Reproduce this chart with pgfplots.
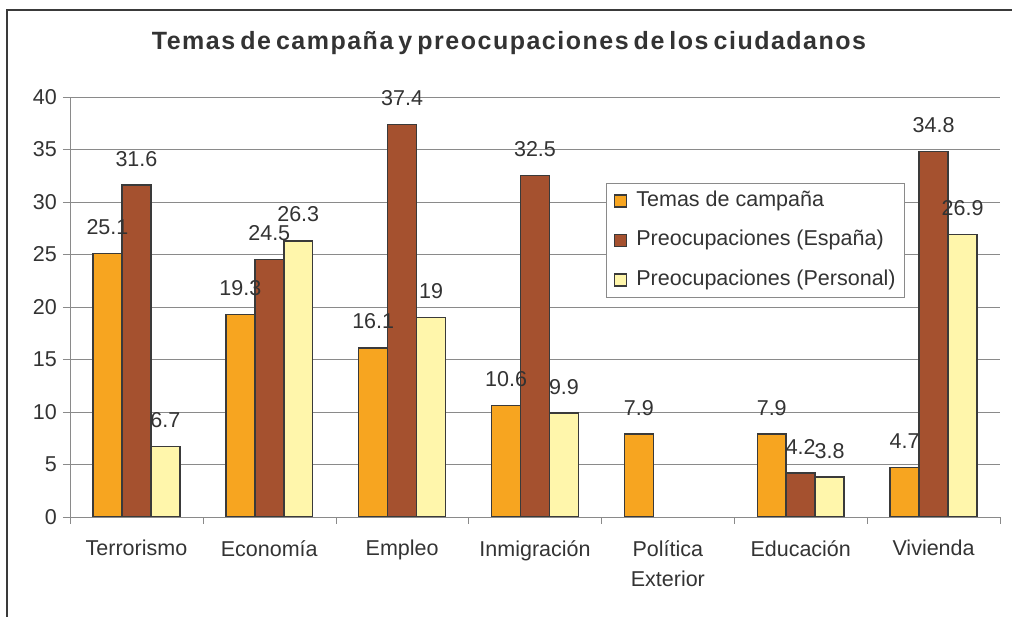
\documentclass[border=0pt]{standalone}
\usepackage{fontspec}
\setmainfont{Liberation Sans}
\newfontfamily\titlefont[LetterSpace=6,WordSpace=0.6]{Liberation Sans}
\usepackage{pgfplots}
\pgfplotsset{compat=1.18}
\definecolor{campana}{HTML}{F7A520}
\definecolor{espana}{HTML}{A5512F}
\definecolor{personal}{HTML}{FFF6AB}
\definecolor{edge}{HTML}{3A3A3A}
\definecolor{txt}{HTML}{333333}
\definecolor{gridc}{HTML}{8A8A8A}

\begin{document}
\begin{tikzpicture}[x=1pt,y=1pt]
\useasboundingbox (0,0) rectangle (1012,617);
\draw[line width=2.5pt,color=edge] (7,0) -- (7,607) -- (1012,607);
\node[font=\titlefont\bfseries\fontsize{25}{30}\selectfont,text=txt] at (509,574)
  {Temas de campaña y preocupaciones de los ciudadanos};
\begin{axis}[
  at={(70pt,100pt)}, anchor=south west,
  scale only axis, width=930pt, height=420pt,
  ybar=0pt, bar width=0.218,
  xmin=-0.5, xmax=6.5, ymin=0, ymax=40,
  xtick={0,...,6},
  xticklabels={Terrorismo,Economía,Empleo,Inmigración,Política\\Exterior,Educación,Vivienda},
  minor xtick={-0.5,0.5,...,6.5},
  major x tick style={draw=none},
  minor x tick style={draw=gridc,thin},
  minor tick length=7pt,
  ytick={0,5,...,40},
  tick align=outside, major tick length=7pt,
  y tick style={draw=gridc,thin},
  ymajorgrids, grid style={draw=gridc,thin},
  axis x line*=bottom, axis y line*=left,
  axis line style={draw=gridc,thin,-},
  /pgf/number format/assume math mode=true,
  tick label style={font=\fontsize{21.5}{30}\selectfont,text=txt},
  xticklabel style={align=center,anchor=north,inner sep=0pt,yshift=-16pt},
  yticklabel style={anchor=east,inner sep=0pt,xshift=-6pt},
  nodes near coords,
  every node near coord/.append style={font=\fontsize{21.5}{25}\selectfont,text=txt,
    anchor=south,inner sep=0pt,yshift=18pt},
  every axis plot post/.append style={draw=edge,line width=1.5pt,
    legend image code/.code={\draw[##1,line width=1.5pt] (0pt,-6pt) rectangle (12pt,6pt);}},
  legend cell align=left,
  legend style={at={(0.576,0.795)},anchor=north west,draw=gridc,thin,fill=white,
    inner sep=8pt,row sep=20.5pt,font=\fontsize{21.5}{25}\selectfont,text=txt,
    nodes={inner sep=0pt,text height=15pt,text depth=4pt},
    /tikz/every odd column/.append style={column sep=9pt}},
]
\addplot[fill=campana] coordinates {(0,25.1) (1,19.3) (2,16.1) (3,10.6) (4,7.9) (5,7.9) (6,4.7)};
\addplot[fill=espana] coordinates {(0,31.6) (1,24.5) (2,37.4) (3,32.5) (5,4.2) (6,34.8)};
\addplot[fill=personal] coordinates {(0,6.7) (1,26.3) (2,19) (3,9.9) (5,3.8) (6,26.9)};
\legend{Temas de campaña,Preocupaciones (España),Preocupaciones (Personal)}
\end{axis}
\end{tikzpicture}
\end{document}
